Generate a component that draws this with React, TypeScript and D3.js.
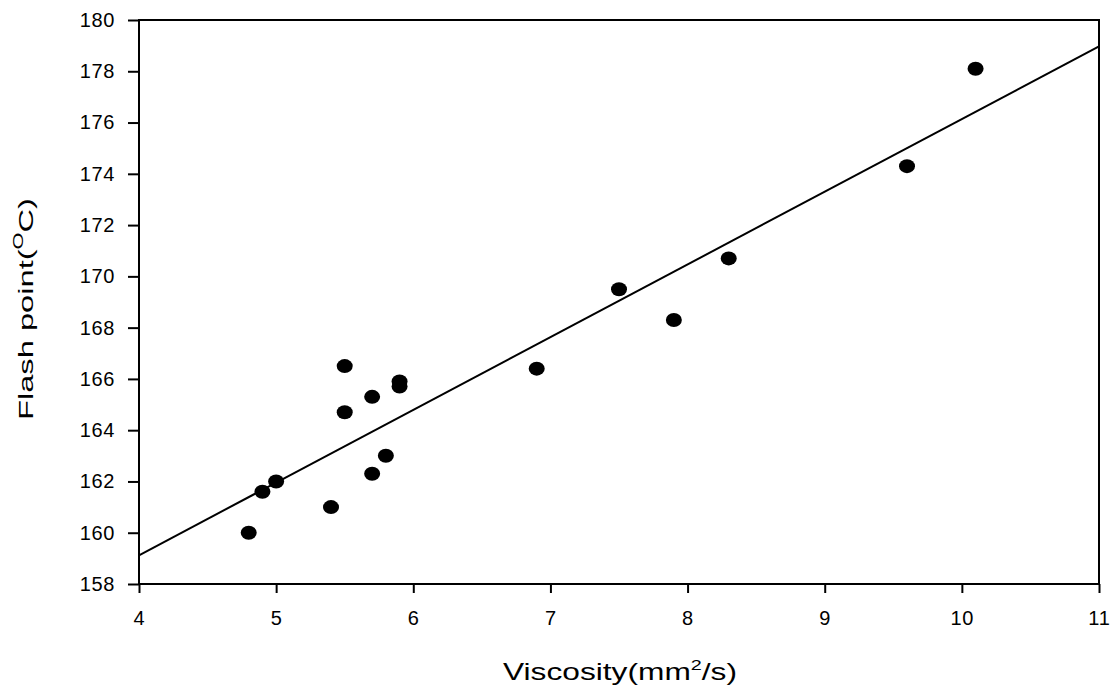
import * as d3 from 'd3';
import { useEffect, useRef } from 'react';

// viscosity (mm2/s) and flash point (°C)
const viscosity = [4.8, 4.9, 5.0, 5.4, 5.5, 5.5, 5.7, 5.7, 5.8, 5.9, 5.9, 6.9, 7.5, 7.9, 8.3, 9.6, 10.1];
const flashPoint = [160.0, 161.6, 162.0, 161.0, 166.5, 164.7, 165.3, 162.3, 163.0, 165.9, 165.7, 166.4, 169.5, 168.3, 170.7, 174.3, 178.1];
const xTicks = [4, 5, 6, 7, 8, 9, 10, 11];
const yTicks = [158, 160, 162, 164, 166, 168, 170, 172, 174, 176, 178, 180];

export default function App() {
  const ref = useRef<SVGSVGElement>(null);

  useEffect(() => {
    document.body.style.margin = '0';
    const width = 1115;
    const height = 687;
    const margin = { top: 20, right: 16, bottom: 103, left: 139 };

    const svg = d3.select(ref.current);
    svg.selectAll('*').remove();
    svg.attr('width', width).attr('height', height);

    const x = d3.scaleLinear().domain([4, 11]).range([margin.left, width - margin.right]);
    const y = d3.scaleLinear().domain([158, 180]).range([height - margin.bottom, margin.top]);

    const font = '"Liberation Sans", Arial, sans-serif';

    // least squares fit
    const mx = d3.mean(viscosity)!;
    const my = d3.mean(flashPoint)!;
    let sxy = 0, sxx = 0;
    viscosity.forEach((v, i) => {
      sxy += (v - mx) * (flashPoint[i] - my);
      sxx += (v - mx) * (v - mx);
    });
    const slope = sxy / sxx;
    const icpt = my - slope * mx;
    const fit = x.domain().map((v) => [v, icpt + slope * v] as [number, number]);

    // frame
    const [x0, x1] = x.range();
    const [y0, y1] = y.range();
    svg.append('rect')
      .attr('x', x0).attr('y', y1)
      .attr('width', x1 - x0).attr('height', y0 - y1)
      .attr('fill', 'none').attr('stroke', '#000').attr('stroke-width', 2);

    // y axis
    const yAx = svg.append('g')
      .attr('transform', `translate(${x0},0)`)
      .call(d3.axisLeft(y).tickValues(yTicks).tickSize(11).tickPadding(13));
    yAx.select('.domain').remove();
    yAx.selectAll('line').attr('stroke', '#000').attr('stroke-width', 2);
    yAx.selectAll('text')
      .attr('font-family', font).attr('font-size', 20).attr('fill', '#000')
      .attr('letter-spacing', 0.6);

    // x axis
    const xAx = svg.append('g')
      .attr('transform', `translate(0,${y0})`)
      .call(d3.axisBottom(x).tickValues(xTicks).tickFormat(d3.format('d')).tickSize(9));
    xAx.select('.domain').remove();
    xAx.selectAll('line').attr('stroke', '#000').attr('stroke-width', 2);
    xAx.selectAll('text')
      .attr('y', 27)
      .attr('font-family', font).attr('font-size', 20).attr('fill', '#000')
      .attr('letter-spacing', 0.8);

    // regression line
    svg.append('path')
      .datum(fit)
      .attr('fill', 'none')
      .attr('stroke', '#000')
      .attr('stroke-width', 2)
      .attr('d', d3.line().x((d) => x(d[0])).y((d) => y(d[1])));

    // points
    svg.append('g')
      .selectAll('ellipse')
      .data(viscosity)
      .enter()
      .append('ellipse')
      .attr('cx', (d) => x(d))
      .attr('cy', (d, i) => y(flashPoint[i]))
      .attr('rx', 8)
      .attr('ry', 7)
      .attr('fill', '#000');

    // axis titles
    const xt = svg.append('text')
      .attr('x', 620)
      .attr('y', 680)
      .attr('text-anchor', 'middle')
      .attr('font-family', font)
      .attr('font-size', 24)
      .attr('textLength', 234)
      .attr('lengthAdjust', 'spacingAndGlyphs')
      .attr('fill', '#000');
    xt.append('tspan').text('Viscosity(mm');
    xt.append('tspan').attr('font-size', 15).attr('dy', -10).text('2');
    xt.append('tspan').attr('dy', 10).text('/s)');

    const yt = svg.append('text')
      .attr('transform', `translate(33,309) rotate(-90)`)
      .attr('text-anchor', 'middle')
      .attr('font-family', font)
      .attr('font-size', 21)
      .attr('textLength', 222)
      .attr('lengthAdjust', 'spacingAndGlyphs')
      .attr('fill', '#000');
    yt.append('tspan').text('Flash point(');
    yt.append('tspan').attr('font-size', 14).attr('dy', -10).text('O');
    yt.append('tspan').attr('dy', 10).text('C)');
  }, []);

  return <svg ref={ref} style={{ display: 'block' }} />;
}
